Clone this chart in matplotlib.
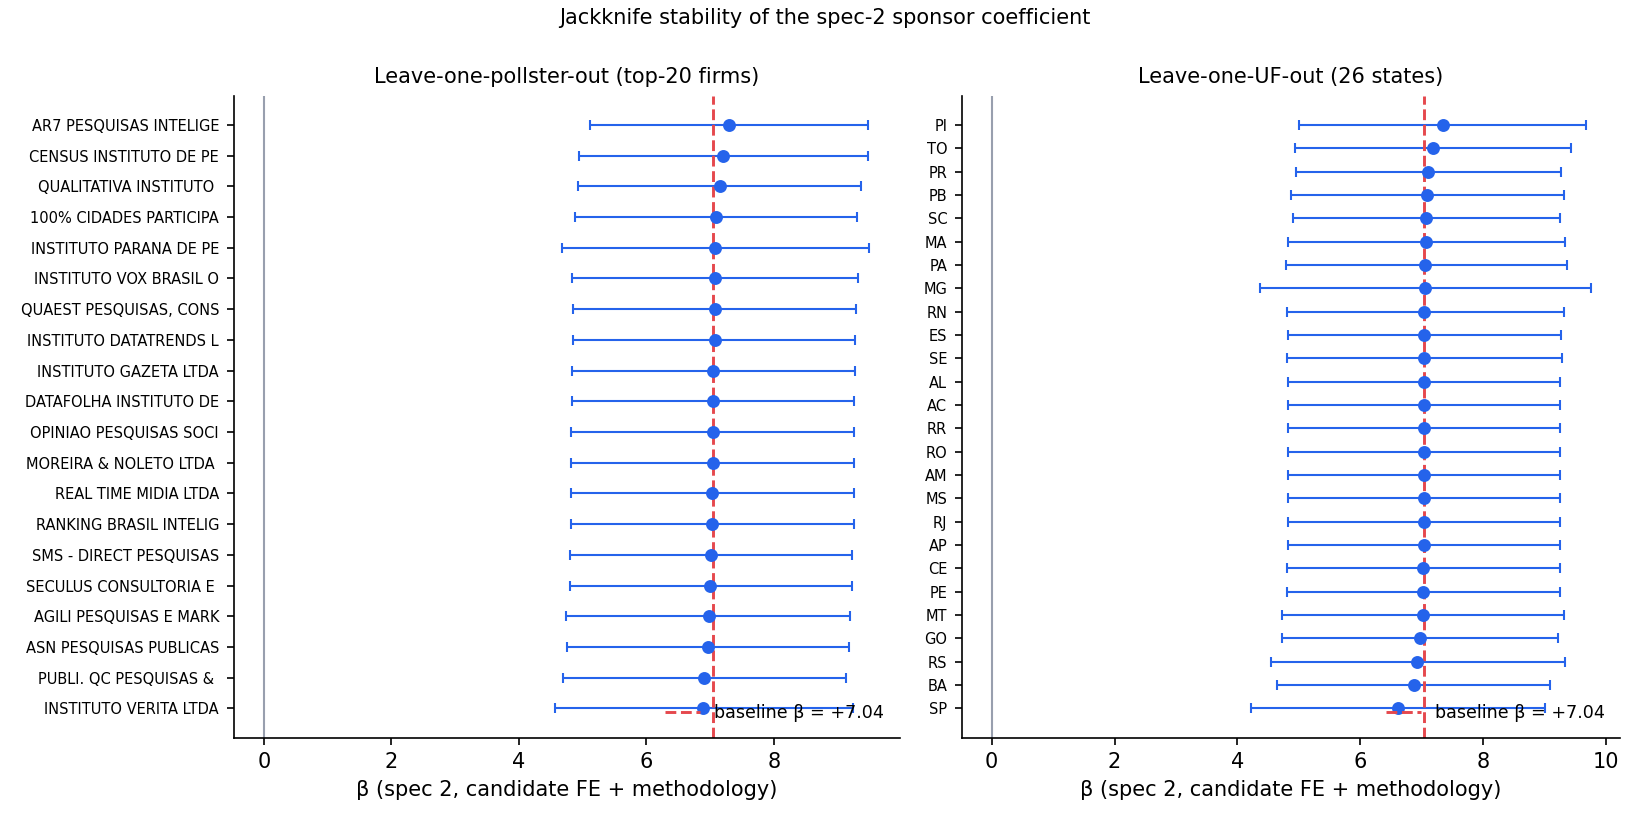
import matplotlib
matplotlib.use('Agg')
import matplotlib.pyplot as plt
import numpy as np

# Coeficiente base (spec 2)
baseline = 7.04

# Leave-one-pollster-out (top-20 firms), de cima para baixo
firmas = ['AR7 PESQUISAS INTELIGE', 'CENSUS INSTITUTO DE PE', 'QUALITATIVA INSTITUTO ',
          '100% CIDADES PARTICIPA', 'INSTITUTO PARANA DE PE', 'INSTITUTO VOX BRASIL O',
          'QUAEST PESQUISAS, CONS', 'INSTITUTO DATATRENDS L', 'INSTITUTO GAZETA LTDA',
          'DATAFOLHA INSTITUTO DE', 'OPINIAO PESQUISAS SOCI', 'MOREIRA & NOLETO LTDA ',
          'REAL TIME MIDIA LTDA', 'RANKING BRASIL INTELIG', 'SMS - DIRECT PESQUISAS',
          'SECULUS CONSULTORIA E ', 'AGILI PESQUISAS E MARK', 'ASN PESQUISAS PUBLICAS',
          'PUBLI. QC PESQUISAS & ', 'INSTITUTO VERITA LTDA']
beta_firmas = [7.30, 7.21, 7.15, 7.10, 7.08, 7.08, 7.07, 7.07, 7.05, 7.05,
               7.04, 7.04, 7.03, 7.03, 7.01, 7.00, 6.98, 6.97, 6.91, 6.89]
lo_firmas = [5.12, 4.95, 4.93, 4.88, 4.67, 4.83, 4.85, 4.85, 4.83, 4.83,
             4.82, 4.82, 4.82, 4.82, 4.80, 4.80, 4.74, 4.75, 4.69, 4.57]
hi_firmas = [9.48, 9.48, 9.37, 9.31, 9.50, 9.32, 9.29, 9.28, 9.27, 9.26,
             9.26, 9.26, 9.25, 9.25, 9.23, 9.22, 9.20, 9.18, 9.13, 9.24]

# Leave-one-UF-out (26 states), de cima para baixo
ufs = ['PI', 'TO', 'PR', 'PB', 'SC', 'MA', 'PA', 'MG', 'RN', 'ES', 'SE', 'AL', 'AC',
       'RR', 'RO', 'AM', 'MS', 'RJ', 'AP', 'CE', 'PE', 'MT', 'GO', 'RS', 'BA', 'SP']
beta_ufs = [7.34, 7.18, 7.10, 7.09, 7.07, 7.07, 7.06, 7.05, 7.04, 7.04, 7.04, 7.04, 7.04,
            7.04, 7.04, 7.04, 7.04, 7.04, 7.04, 7.03, 7.03, 7.03, 6.98, 6.93, 6.88, 6.61]
lo_ufs = [5.01, 4.93, 4.95, 4.88, 4.91, 4.82, 4.79, 4.37, 4.80, 4.83, 4.80, 4.82, 4.82,
          4.82, 4.82, 4.82, 4.82, 4.82, 4.82, 4.80, 4.80, 4.72, 4.73, 4.54, 4.65, 4.22]
hi_ufs = [9.67, 9.43, 9.27, 9.32, 9.25, 9.34, 9.36, 9.75, 9.31, 9.27, 9.29, 9.26, 9.26,
          9.26, 9.26, 9.26, 9.26, 9.26, 9.26, 9.26, 9.26, 9.32, 9.22, 9.34, 9.09, 9.01]

AZUL = '#2563eb'
VERMELHO = '#e5484d'
CINZA = '#989fae'


def painel(ax, nomes, beta, lo, hi, titulo):
    beta = np.array(beta)
    y = np.arange(len(nomes))
    xerr = [beta - np.array(lo), np.array(hi) - beta]
    ax.axvline(0, color=CINZA, linewidth=1.0)
    ax.errorbar(beta, y, xerr=xerr, fmt='o', color=AZUL, ecolor=AZUL,
                markersize=5.2, elinewidth=1.0, capsize=2.5, capthick=1.0)
    ax.axvline(baseline, color=VERMELHO, linestyle='--', linewidth=1.4,
               label=f'baseline β = +{baseline:.2f}')
    ax.set_yticks(y)
    ax.set_yticklabels(nomes, fontsize=7)
    ax.invert_yaxis()
    ax.set_title(titulo, fontsize=10)
    ax.set_xlabel('β (spec 2, candidate FE + methodology)', fontsize=10)
    ax.tick_params(axis='x', labelsize=10)
    ax.spines['top'].set_visible(False)
    ax.spines['right'].set_visible(False)
    ax.legend(loc='lower right', frameon=False, fontsize=8.4)


fig, (ax1, ax2) = plt.subplots(1, 2, figsize=(11, 5.5), dpi=150)
painel(ax1, firmas, beta_firmas, lo_firmas, hi_firmas, 'Leave-one-pollster-out (top-20 firms)')
painel(ax2, ufs, beta_ufs, lo_ufs, hi_ufs, 'Leave-one-UF-out (26 states)')
fig.suptitle('Jackknife stability of the spec-2 sponsor coefficient', fontsize=10, y=0.99)
# posições medidas no gráfico de referência
ax1.set_position([0.1416, 0.106, 0.4037, 0.778])
ax2.set_position([0.5829, 0.106, 0.3992, 0.778])
plt.savefig('out.png')
plt.close()
